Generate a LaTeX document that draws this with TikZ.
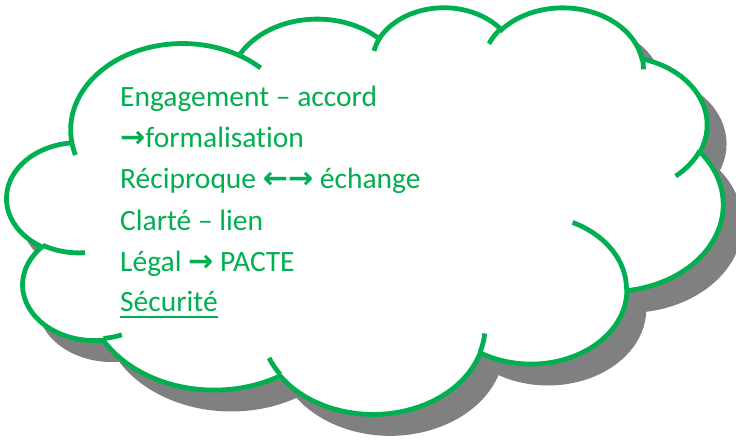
\documentclass[tikz,border=0pt]{standalone}
\usepackage{fontspec}
\setmainfont{Carlito}[Ligatures=NoCommon]
\newfontfamily\arrowfont{DejaVu Sans}[Scale=1.02]
\definecolor{cgreen}{HTML}{00B050}
\definecolor{cshadow}{HTML}{808080}
\newcommand\cldcalc[5]{%
  \pgfmathsetmacro\cltmpS{atan2((#2)*sin(#4),(#3)*cos(#4))}%
  \pgfmathsetmacro\cltmpE{atan2((#2)*sin((#4)+(#5)),(#3)*cos((#4)+(#5)))}%
  \pgfmathsetmacro\cltmpD{\cltmpE-\cltmpS}%
  \pgfmathsetmacro\cltmpDD{ifthenelse((#5)>0,ifthenelse(\cltmpD<0,\cltmpD+360,\cltmpD),ifthenelse(\cltmpD>0,\cltmpD-360,\cltmpD))}%
  \expandafter\xdef\csname cls#1\endcsname{\cltmpS}%
  \expandafter\xdef\csname cld#1\endcsname{\cltmpDD}%
}
\newcommand\rarr{{\arrowfont\bfseries →}}
\newcommand\larr{{\arrowfont\bfseries ←}}
\tikzset{
  cloudline/.style={line width=4.8pt},
  txt/.style={text=cgreen, font=\fontsize{29.5}{35}\selectfont, inner sep=0pt, anchor=base west},
}
\begin{document}
\begin{tikzpicture}[x=1pt,y=-1pt]
\useasboundingbox (0,0) rectangle (736,439);
% main outline arcs
\cldcalc{A}{67.53}{91.90}{-190.48748}{123.78053}
\cldcalc{B}{53.33}{72.67}{-144.10238}{89.94523}
\cldcalc{C}{43.65}{59.45}{-145.80792}{99.72302}
\cldcalc{D}{48.57}{65.95}{-130.98607}{117.24173}
\cldcalc{E}{53.33}{72.73}{-78.70888}{109.02692}
\cldcalc{F}{67.75}{92.20}{-46.26725}{130.269}
\cldcalc{G}{57.85}{78.67}{0.62502}{114.03333}
\cldcalc{H}{67.52}{92.15}{22.4516}{115.17255}
\cldcalc{I}{77.20}{105.43}{66.24263}{75.71102}
\cldcalc{J}{43.60}{59.18}{-274.94208}{146.73557}
\cldcalc{K}{43.45}{59.45}{-246.8285}{152.51885}
% hooks
\cldcalc{HA}{43.45}{59.45}{86.742}{26.4295}
\cldcalc{HB}{43.60}{59.18}{73.61047}{11.44747}
\cldcalc{HC}{67.52}{92.15}{137.62415}{14.0811}
\cldcalc{HD}{67.52}{92.15}{6.45327}{15.99835}
\cldcalc{HE}{57.85}{78.67}{-70.29235}{70.91737}
\cldcalc{HF}{53.33}{72.73}{30.31803}{27.7515}
\cldcalc{HG}{48.57}{65.95}{-13.74433}{14.86455}
\cldcalc{HH}{48.57}{65.95}{-149.18145}{18.19757}
\cldcalc{HI}{43.65}{59.45}{-163.49427}{17.68865}
\cldcalc{HJ}{67.53}{91.90}{-66.70695}{12.31935}
\cldcalc{HK}{67.53}{91.90}{157.65435}{11.85817}
% shadow
\begin{scope}[xshift=24.05pt, yshift=-25.44pt, x=1.6571pt, y=-0.941pt]
\path[fill=cshadow, draw=cshadow, cloudline] (39.00,143.70)
 arc[start angle=\clsA, delta angle=\cldA, x radius=67.53, y radius=91.90]
 arc[start angle=\clsB, delta angle=\cldB, x radius=53.33, y radius=72.67]
 arc[start angle=\clsC, delta angle=\cldC, x radius=43.65, y radius=59.45]
 arc[start angle=\clsD, delta angle=\cldD, x radius=48.57, y radius=65.95]
 arc[start angle=\clsE, delta angle=\cldE, x radius=53.33, y radius=72.73]
 arc[start angle=\clsF, delta angle=\cldF, x radius=67.75, y radius=92.20]
 arc[start angle=\clsG, delta angle=\cldG, x radius=57.85, y radius=78.67]
 arc[start angle=\clsH, delta angle=\cldH, x radius=67.52, y radius=92.15]
 arc[start angle=\clsI, delta angle=\cldI, x radius=77.20, y radius=105.43]
 arc[start angle=\clsJ, delta angle=\cldJ, x radius=43.60, y radius=59.18]
 arc[start angle=\clsK, delta angle=\cldK, x radius=43.45, y radius=59.45]
 -- cycle;
\end{scope}
% cloud
\begin{scope}[xshift=7.05pt, yshift=-6.44pt, x=1.6571pt, y=-0.941pt]
\path[fill=white, draw=cgreen, cloudline] (39.00,143.70)
 arc[start angle=\clsA, delta angle=\cldA, x radius=67.53, y radius=91.90]
 arc[start angle=\clsB, delta angle=\cldB, x radius=53.33, y radius=72.67]
 arc[start angle=\clsC, delta angle=\cldC, x radius=43.65, y radius=59.45]
 arc[start angle=\clsD, delta angle=\cldD, x radius=48.57, y radius=65.95]
 arc[start angle=\clsE, delta angle=\cldE, x radius=53.33, y radius=72.73]
 arc[start angle=\clsF, delta angle=\cldF, x radius=67.75, y radius=92.20]
 arc[start angle=\clsG, delta angle=\cldG, x radius=57.85, y radius=78.67]
 arc[start angle=\clsH, delta angle=\cldH, x radius=67.52, y radius=92.15]
 arc[start angle=\clsI, delta angle=\cldI, x radius=77.20, y radius=105.43]
 arc[start angle=\clsJ, delta angle=\cldJ, x radius=43.60, y radius=59.18]
 arc[start angle=\clsK, delta angle=\cldK, x radius=43.45, y radius=59.45]
 -- cycle;
\draw[cgreen, cloudline] (46.93,261.77) arc[start angle=\clsHA, delta angle=\cldHA, x radius=43.45, y radius=59.45];
\draw[cgreen, cloudline] (69.28,348.99) arc[start angle=\clsHB, delta angle=\cldHB, x radius=43.60, y radius=59.18];
\draw[cgreen, cloudline] (164.78,390.90) arc[start angle=\clsHC, delta angle=\cldHC, x radius=67.52, y radius=92.15];
\draw[cgreen, cloudline] (288.27,347.51) arc[start angle=\clsHD, delta angle=\cldHD, x radius=67.52, y radius=92.15];
\draw[cgreen, cloudline] (341.29,229.54) arc[start angle=\clsHE, delta angle=\cldHE, x radius=57.85, y radius=78.67];
\draw[cgreen, cloudline] (417.98,153.54) arc[start angle=\clsHF, delta angle=\cldHF, x radius=53.33, y radius=72.73];
\draw[cgreen, cloudline] (383.24,54.26) arc[start angle=\clsHG, delta angle=\cldHG, x radius=48.57, y radius=65.95];
\draw[cgreen, cloudline] (290.78,39.52) arc[start angle=\clsHH, delta angle=\cldHH, x radius=48.57, y radius=65.95];
\draw[cgreen, cloudline] (221.41,47.20) arc[start angle=\clsHI, delta angle=\cldHI, x radius=43.65, y radius=59.45];
\draw[cgreen, cloudline] (140.00,51.92) arc[start angle=\clsHJ, delta angle=\cldHJ, x radius=67.53, y radius=91.90];
\draw[cgreen, cloudline] (41.27,157.89) arc[start angle=\clsHK, delta angle=\cldHK, x radius=67.53, y radius=91.90];
\end{scope}
% text
\node[txt] (l1) at (120.0,106.7) {Engagement – accord};
\node[txt] (l2) at (120.0,147.7) {\rarr formalisation};
\node[txt] (l3) at (120.0,188.9) {Réciproque \larr\rarr{} échange};
\node[txt] (l4) at (120.0,230.2) {Clarté – lien};
\node[txt] (l5) at (120.0,271.5) {Légal \rarr{} PACTE};
\node[txt] (l6) at (120.0,311.7) {Sécurité};
\draw[cgreen, line width=1.7pt] ([yshift=-5.6pt]l6.base west) -- ([yshift=-5.6pt]l6.base east);
\end{tikzpicture}
\end{document}
